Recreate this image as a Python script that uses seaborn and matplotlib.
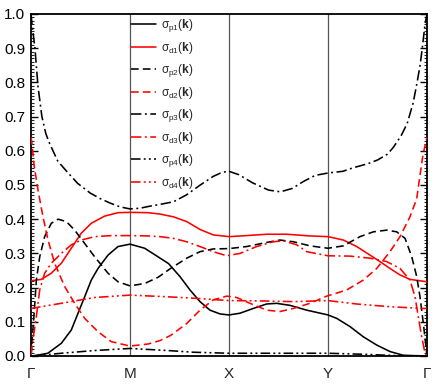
import numpy as np
import pandas as pd
import matplotlib
matplotlib.use("Agg")
import matplotlib.pyplot as plt
import seaborn as sns

# high-symmetry path labels
kpath_ticks = [0, 1, 2, 3, 4]
kpath_labels = ["Γ", "M", "X", "Y", "Γ"]

# sigma_p1 (black solid)
p1_k = [0, 0.02, 0.17, 0.306, 0.407, 0.475, 0.542, 0.609, 0.677, 0.778, 0.879, 1.0, 1.148,
        1.283, 1.39, 1.505, 1.606, 1.707, 1.808, 1.909, 2.0, 2.11, 2.245, 2.38, 2.48, 2.616,
        2.785, 3.0, 3.088, 3.222, 3.357, 3.492, 3.626, 3.761, 4.0]
p1_s = [0, 0, 0.008, 0.037, 0.076, 0.125, 0.173, 0.222, 0.256, 0.295, 0.32, 0.327, 0.315,
        0.29, 0.27, 0.232, 0.193, 0.159, 0.134, 0.123, 0.12, 0.125, 0.139, 0.152, 0.154, 0.148,
        0.134, 0.12, 0.11, 0.086, 0.056, 0.032, 0.013, 0.002, 0]

# sigma_d1 (red solid)
d1_k = [0, 0.104, 0.205, 0.306, 0.407, 0.508, 0.609, 0.744, 0.879, 1.0, 1.182, 1.303, 1.437,
        1.573, 1.707, 1.841, 2.0, 2.179, 2.381, 2.583, 2.818, 3.0, 3.155, 3.29, 3.424, 3.525,
        3.626, 3.727, 3.828, 4.0]
d1_s = [0.22, 0.224, 0.242, 0.271, 0.315, 0.359, 0.388, 0.409, 0.419, 0.42, 0.419, 0.415,
        0.407, 0.393, 0.37, 0.354, 0.349, 0.352, 0.356, 0.356, 0.351, 0.349, 0.339, 0.32, 0.295,
        0.276, 0.256, 0.237, 0.224, 0.217]

# sigma_p2 (black dashed)
p2_k = [0, 0.02, 0.04, 0.054, 0.088, 0.138, 0.205, 0.273, 0.357, 0.441, 0.542, 0.643, 0.778,
        0.879, 1.0, 1.148, 1.283, 1.41, 1.573, 1.707, 1.841, 2.0, 2.179, 2.381, 2.515, 2.65,
        2.818, 3.0, 3.155, 3.323, 3.458, 3.593, 3.694, 3.778, 3.846, 3.896, 3.929, 3.963, 4.0]
p2_s = [0, 0.08, 0.16, 0.222, 0.29, 0.349, 0.388, 0.4, 0.393, 0.368, 0.329, 0.29, 0.242,
        0.217, 0.205, 0.212, 0.23, 0.256, 0.286, 0.305, 0.313, 0.314, 0.32, 0.332, 0.339, 0.334,
        0.322, 0.315, 0.322, 0.349, 0.363, 0.368, 0.363, 0.344, 0.29, 0.232, 0.173, 0.095, 0]

# sigma_d2 (red dashed)
d2_k = [0, 0.01, 0.03, 0.071, 0.121, 0.172, 0.239, 0.34, 0.441, 0.542, 0.677, 0.811, 1.0,
        1.182, 1.303, 1.41, 1.573, 1.707, 1.841, 1.977, 2.078, 2.212, 2.381, 2.515, 2.65, 2.818,
        2.987, 3.189, 3.357, 3.492, 3.626, 3.727, 3.828, 3.896, 3.93, 3.96, 4.0]
d2_s = [0.64, 0.62, 0.56, 0.485, 0.407, 0.339, 0.271, 0.203, 0.154, 0.11, 0.071, 0.042,
        0.029, 0.035, 0.045, 0.06, 0.095, 0.134, 0.164, 0.175, 0.171, 0.154, 0.134, 0.13, 0.139,
        0.154, 0.175, 0.193, 0.222, 0.256, 0.305, 0.349, 0.407, 0.46, 0.53, 0.59, 0.64]

# sigma_p3 (black dash-dot)
p3_k = [0, 0.01, 0.04, 0.07, 0.11, 0.15, 0.19, 0.27, 0.36, 0.47, 0.6, 0.7, 0.8, 0.9, 1.0,
        1.1, 1.2, 1.3, 1.44, 1.57, 1.71, 1.84, 1.93, 2.0, 2.1, 2.24, 2.4, 2.52, 2.64, 2.75, 2.87,
        3.0, 3.15, 3.25, 3.4, 3.5, 3.6, 3.66, 3.74, 3.8, 3.86, 3.9, 3.93, 3.95, 3.98, 4.0]
p3_s = [1.0, 0.97, 0.90, 0.79, 0.70, 0.65, 0.62, 0.57, 0.54, 0.505, 0.476, 0.46, 0.447,
        0.436, 0.43, 0.432, 0.438, 0.443, 0.451, 0.471, 0.50, 0.525, 0.537, 0.54, 0.53, 0.506,
        0.485, 0.48, 0.49, 0.51, 0.528, 0.535, 0.54, 0.55, 0.562, 0.573, 0.59, 0.61, 0.645,
        0.68, 0.74, 0.80, 0.85, 0.895, 0.97, 1.0]

# sigma_d3 (red dash-dot)
d3_k = [0, 0.02, 0.054, 0.088, 0.138, 0.205, 0.306, 0.407, 0.508, 0.643, 0.811, 1.0, 1.182,
        1.303, 1.437, 1.573, 1.707, 1.841, 1.977, 2.111, 2.28, 2.447, 2.549, 2.684, 2.785, 3.0,
        3.222, 3.424, 3.593, 3.727, 3.828, 3.879, 3.912, 3.946, 3.98, 4.0]
d3_s = [0, 0.05, 0.115, 0.193, 0.242, 0.271, 0.3, 0.325, 0.339, 0.349, 0.352, 0.352, 0.351,
        0.349, 0.344, 0.334, 0.32, 0.305, 0.293, 0.3, 0.32, 0.334, 0.337, 0.325, 0.305, 0.293,
        0.292, 0.286, 0.276, 0.256, 0.222, 0.173, 0.115, 0.056, 0.008, 0]

# sigma_p4 (black dash-dot-dot)
p4_k = [0, 0.1, 0.306, 0.643, 1.0, 1.38, 1.64, 2.0, 2.5, 3.0, 3.36, 3.7, 4.0]
p4_s = [0, 0.002, 0.008, 0.016, 0.022, 0.016, 0.011, 0.008, 0.008, 0.008, 0.005, 0.001, 0]

# sigma_d4 (red dash-dot-dot)
d4_k = [0, 0.306, 0.643, 1.0, 1.384, 1.64, 2.0, 2.32, 2.65, 3.0, 3.29, 3.63, 3.96, 4.0]
d4_s = [0.139, 0.154, 0.171, 0.178, 0.173, 0.169, 0.162, 0.161, 0.159, 0.162, 0.152, 0.144,
        0.139, 0.139]

series = [
    ("p1", p1_k, p1_s, "black", "-"),
    ("d1", d1_k, d1_s, "red", "-"),
    ("p2", p2_k, p2_s, "black", (0, (4.8, 2.6))),
    ("d2", d2_k, d2_s, "red", (0, (4.8, 2.6))),
    ("p3", p3_k, p3_s, "black", (0, (6.5, 2.2, 1.2, 2.2))),
    ("d3", d3_k, d3_s, "red", (0, (6.5, 2.2, 1.2, 2.2))),
    ("p4", p4_k, p4_s, "black", (0, (6.0, 2.0, 1.2, 2.0, 1.2, 2.0))),
    ("d4", d4_k, d4_s, "red", (0, (6.0, 2.0, 1.2, 2.0, 1.2, 2.0))),
]

sns.set_style("ticks")
plt.rcParams["font.family"] = ["Liberation Sans", "DejaVu Sans"]
plt.rcParams["mathtext.fontset"] = "custom"
plt.rcParams["mathtext.rm"] = "Liberation Sans"
plt.rcParams["mathtext.it"] = "Liberation Sans:italic"
plt.rcParams["mathtext.bf"] = "Liberation Sans:bold"

fig = plt.figure(figsize=(4.36, 3.88), dpi=100)
ax = fig.add_axes([0.0711, 0.0825, 0.9083, 0.8815])

for x in kpath_ticks[1:-1]:
    ax.axvline(x, color="#555555", lw=0.9, zorder=1)

for name, k, s, col, ls in series:
    df = pd.DataFrame({"k": k, "sigma": s})
    lab = r"$\mathrm{\sigma}_{\mathrm{%s}}\mathrm{(}\mathbf{k}\mathrm{)}$" % name
    sns.lineplot(data=df, x="k", y="sigma", color=col, linestyle=ls, lw=1.15,
                 label=lab, ax=ax, sort=False, estimator=None, zorder=3)

ax.set_xlim(0, 4)
ax.set_ylim(0, 1.0)
ax.set_xticks(kpath_ticks)
ax.set_xticklabels(kpath_labels)
ax.set_yticks(np.arange(0, 1.01, 0.1))
ax.set_yticklabels([f"{v:.1f}" for v in np.arange(0, 1.01, 0.1)])
ax.set_yticks(np.arange(0, 1.001, 0.01), minor=True)
ax.set_xlabel("")
ax.set_ylabel("")
ax.tick_params(axis="y", which="major", direction="in", length=5, width=1, left=True,
               right=True, labelsize=11, pad=4, colors="black")
ax.tick_params(axis="y", which="minor", direction="in", length=2.5, width=0.8, left=True,
               right=True)
ax.tick_params(axis="x", which="both", length=0, labelsize=11, pad=8)
for sp in ax.spines.values():
    sp.set_linewidth(1.3)
    sp.set_color("black")
    sp.set_visible(True)

leg = ax.legend(loc="upper left", bbox_to_anchor=(0.252, 0.99), frameon=False,
                fontsize=8.5, handlelength=2.1, handletextpad=0.5, labelspacing=0.5,
                borderpad=0, borderaxespad=0)

fig.savefig("out.png", dpi=100)
